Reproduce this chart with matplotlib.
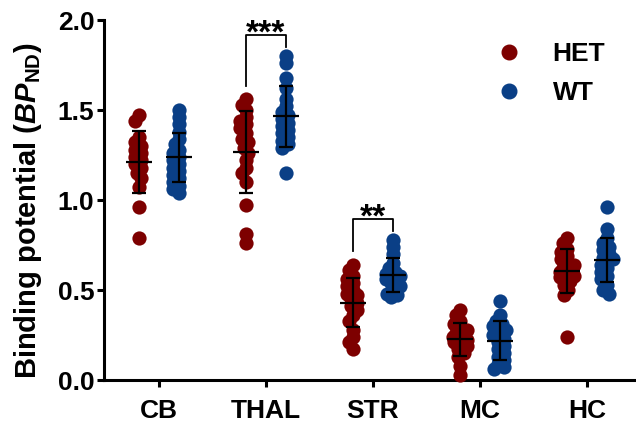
import matplotlib

matplotlib.use("Agg")

import matplotlib.pyplot as plt
import numpy as np


regions = ["CB", "THAL", "STR", "MC", "HC"]

# binding potential per animal
het_cb = [1.47, 1.44, 1.35, 1.32, 1.30, 1.28, 1.26, 1.24, 1.22, 1.20, 1.18, 1.15, 1.12, 1.07, 0.96, 0.79]
wt_cb = [1.50, 1.46, 1.42, 1.38, 1.34, 1.31, 1.28, 1.26, 1.24, 1.22, 1.20, 1.18, 1.16, 1.14, 1.12, 1.10, 1.08, 1.06, 1.04]
het_thal = [1.56, 1.53, 1.50, 1.46, 1.44, 1.42, 1.40, 1.37, 1.34, 1.32, 1.29, 1.26, 1.22, 1.18, 1.15, 1.10, 0.97, 0.81, 0.76]
wt_thal = [1.80, 1.76, 1.68, 1.62, 1.56, 1.52, 1.49, 1.47, 1.45, 1.43, 1.41, 1.39, 1.37, 1.35, 1.33, 1.31, 1.29, 1.15]
het_str = [0.64, 0.61, 0.58, 0.56, 0.54, 0.52, 0.50, 0.48, 0.47, 0.45, 0.43, 0.41, 0.39, 0.36, 0.33, 0.28, 0.24, 0.21, 0.17]
wt_str = [0.78, 0.74, 0.70, 0.65, 0.62, 0.60, 0.59, 0.58, 0.57, 0.56, 0.55, 0.54, 0.52, 0.50, 0.48, 0.47, 0.46]
het_mc = [0.39, 0.36, 0.33, 0.31, 0.29, 0.28, 0.26, 0.25, 0.24, 0.23, 0.22, 0.21, 0.20, 0.19, 0.17, 0.15, 0.13, 0.08, 0.03]
wt_mc = [0.44, 0.36, 0.33, 0.31, 0.30, 0.28, 0.26, 0.25, 0.23, 0.21, 0.19, 0.17, 0.15, 0.13, 0.11, 0.09, 0.07, 0.06]
het_hc = [0.79, 0.76, 0.73, 0.71, 0.69, 0.67, 0.65, 0.64, 0.62, 0.61, 0.60, 0.58, 0.58, 0.57, 0.55, 0.53, 0.50, 0.47, 0.24]
wt_hc = [0.96, 0.84, 0.79, 0.76, 0.74, 0.72, 0.70, 0.68, 0.67, 0.66, 0.64, 0.62, 0.60, 0.58, 0.56, 0.53, 0.50, 0.48]

het_values = [het_cb, het_thal, het_str, het_mc, het_hc]
wt_values = [wt_cb, wt_thal, wt_str, wt_mc, wt_hc]

significance = {"THAL": "***", "STR": "**"}

HET_COLOR = "#7d0000"
WT_COLOR = "#0a3f86"
FONT = "Liberation Sans"

plt.rcParams["font.family"] = FONT
plt.rcParams["font.weight"] = "bold"
plt.rcParams["mathtext.fontset"] = "custom"
plt.rcParams["mathtext.rm"] = FONT + ":bold"
plt.rcParams["mathtext.bf"] = FONT + ":bold"
plt.rcParams["mathtext.it"] = FONT + ":italic:bold"


def swarm_offsets(values, px_per_y, min_dist=6.5, max_off=7.0):
    # simple beeswarm in pixel space, points allowed to overlap a bit
    values = np.asarray(values, dtype=float)
    candidates = sorted(np.arange(-max_off, max_off + 0.01, 1.0), key=lambda c: (abs(c), c))
    placed = []
    offsets = np.zeros(len(values))
    for i in np.argsort(values)[::-1]:
        y = values[i] * px_per_y
        best, best_d = 0.0, -1.0
        for c in candidates:
            d = min((np.hypot(c - px, y - py) for px, py in placed), default=np.inf)
            if d >= min_dist:
                best = c
                break
            if d > best_d:
                best, best_d = c, d
        offsets[i] = best
        placed.append((best, y))
    return offsets


fig = plt.figure(figsize=(6.36, 4.25), dpi=100)
ax = fig.add_axes([104 / 636, 45 / 425, 532 / 636, 360 / 425])
ax.set_xlim(-0.514, 4.458)
ax.set_ylim(0, 2.0)

px_per_x = 532 / (4.458 + 0.514)
px_per_y = 360 / 2.0
group_shift = 20 / px_per_x
mean_half = 13 / px_per_x
cap_half = 7 / px_per_x

for i, name in enumerate(regions):
    for vals, color, sign in ((het_values[i], HET_COLOR, -1), (wt_values[i], WT_COLOR, 1)):
        vals = np.asarray(vals)
        xc = i + sign * group_shift
        xs = xc + swarm_offsets(vals, px_per_y) / px_per_x
        ax.scatter(xs, vals, s=105, color=color, linewidths=0, zorder=3, clip_on=False)

        m = vals.mean()
        sd = vals.std(ddof=1)
        ax.hlines(m, xc - mean_half, xc + mean_half, color="black", lw=1.6, zorder=4)
        ax.hlines([m - sd, m + sd], xc - cap_half, xc + cap_half, color="black", lw=1.6, zorder=4)
        ax.vlines(xc, m - sd, m + sd, color="black", lw=1.6, zorder=4)

    if name in significance:
        hmax = max(het_values[i])
        wmax = max(wt_values[i])
        top = max(hmax, wmax) + 0.115
        xl = i - group_shift
        xr = i + group_shift
        ax.plot([xl, xl, xr, xr], [hmax + 0.075, top, top, wmax + 0.05],
                color="black", lw=1.3, zorder=2)
        ax.text(i, top - 0.04, significance[name], ha="center", va="baseline",
                fontsize=24, fontweight="bold")

ax.set_xticks(range(len(regions)))
ax.set_xticklabels(regions)
ax.set_yticks(np.arange(0, 2.01, 0.5))
ax.set_yticklabels([f"{v:.1f}" for v in np.arange(0, 2.01, 0.5)])
ax.tick_params(axis="both", labelsize=19, width=2.2, length=5, pad=2)
ax.tick_params(axis="x", pad=9)

for side in ("top", "right"):
    ax.spines[side].set_visible(False)
for side in ("left", "bottom"):
    ax.spines[side].set_linewidth(2.2)

ax.set_ylabel(r"Binding potential ($\mathit{BP}_{\mathrm{ND}}$)", fontsize=21,
              fontweight="bold", labelpad=6)
ax.yaxis.set_label_coords(-0.112, 0.47)

handles = [
    plt.Line2D([], [], ls="", marker="o", ms=10.5, color=HET_COLOR, label="HET"),
    plt.Line2D([], [], ls="", marker="o", ms=10.5, color=WT_COLOR, label="WT"),
]
ax.legend(handles=handles, loc="upper left", bbox_to_anchor=(472 / 636, 1 - 18 / 425),
          bbox_transform=fig.transFigure, frameon=False, fontsize=19,
          handlelength=1.0, handletextpad=1.15, labelspacing=0.58)

fig.savefig("out.png", dpi=100)
